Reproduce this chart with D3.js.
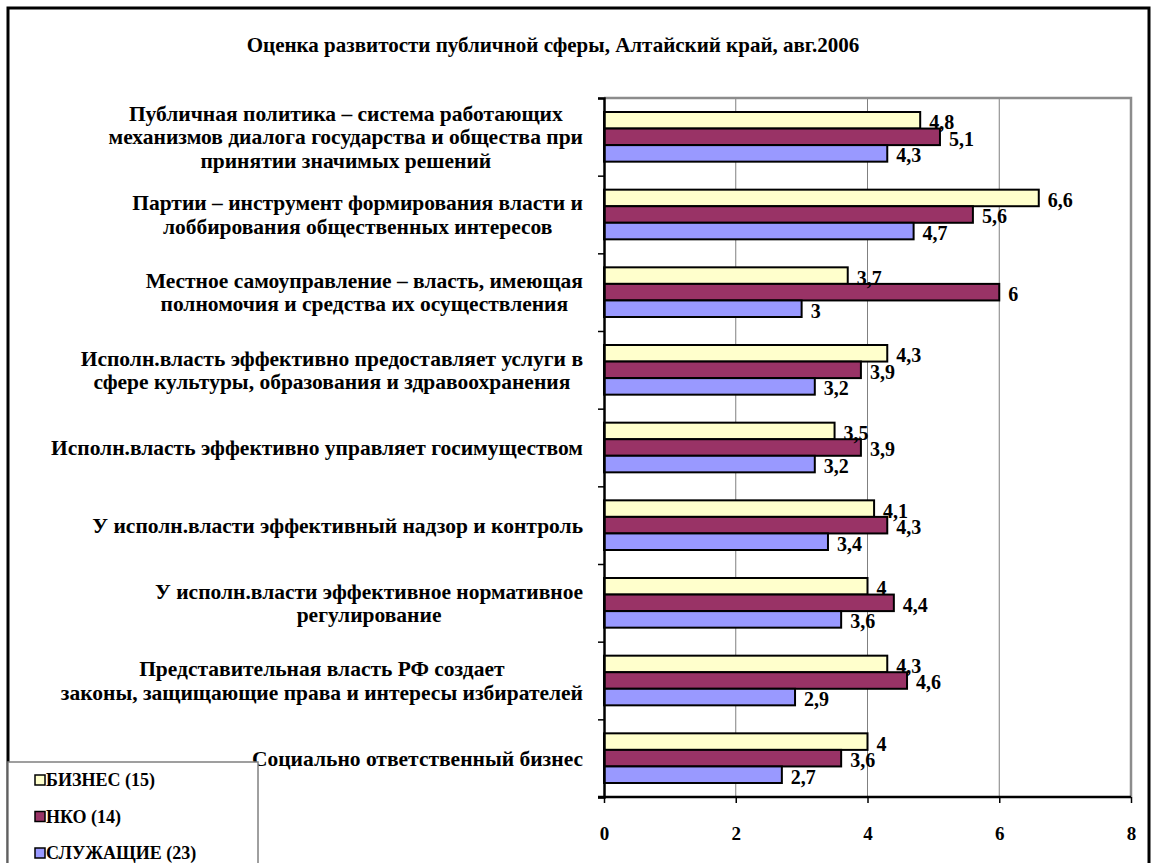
<!DOCTYPE html>
<html>
<head>
<meta charset="utf-8">
<script src="https://cdn.jsdelivr.net/npm/d3@7"></script>
<style>
  body { margin: 0; background: #fff; }
  svg text { font-family: "Liberation Serif", Tinos, "Times New Roman", "DejaVu Serif", serif; font-weight: bold; fill: #000; }
</style>
</head>
<body>
<div id="chart"></div>
<script>
// categories (each one split into the lines shown in the picture)
const categories = [
    ["Публичная политика – система работающих", "механизмов диалога государства и общества при", "принятии значимых решений"],
    ["Партии – инструмент формирования власти и", "лоббирования общественных интересов"],
    ["Местное самоуправление – власть, имеющая", "полномочия и средства их осуществления"],
    ["Исполн.власть эффективно предоставляет услуги в", "сфере культуры, образования и здравоохранения"],
    ["Исполн.власть эффективно управляет госимуществом"],
    ["У исполн.власти эффективный надзор и контроль"],
    ["У исполн.власти эффективное нормативное", "регулирование"],
    ["Представительная власть РФ создает", "законы, защищающие права и интересы избирателей"],
    ["Социально ответственный бизнес"]
];
const seriesNames = ["БИЗНЕС (15)", "НКО (14)", "СЛУЖАЩИЕ (23)"];
const business = [4.8, 6.6, 3.7, 4.3, 3.5, 4.1, 4.0, 4.3, 4.0];
const nko = [5.1, 5.6, 6.0, 3.9, 3.9, 4.3, 4.4, 4.6, 3.6];
const officials = [4.3, 4.7, 3.0, 3.2, 3.2, 3.4, 3.6, 2.9, 2.7];
const xTicks = [0, 2, 4, 6, 8];
const colors = ["#FFFFCC", "#993366", "#9999FF"];

const width = 1154, height = 863;
const plot = { left: 604, right: 1131, top: 98, bottom: 797 };

const svg = d3.select("#chart").append("svg")
    .attr("width", width)
    .attr("height", height);

// outer frame
svg.append("rect")
    .attr("x", 8).attr("y", 8)
    .attr("width", 1141).attr("height", 880)
    .attr("fill", "none").attr("stroke", "#000").attr("stroke-width", 3);

svg.append("text")
    .attr("x", 553).attr("y", 52)
    .attr("text-anchor", "middle")
    .style("font-size", "21px")
    .text("Оценка развитости публичной сферы, Алтайский край, авг.2006");

const x = d3.scaleLinear().domain([0, 8]).range([plot.left, plot.right]);
const keys = categories.map((c, i) => i);
const y0 = d3.scaleBand().domain(keys).range([plot.top, plot.bottom]);
const y1 = d3.scaleBand().domain([0, 1, 2])
    .range([14, y0.bandwidth() - 14]);

// gridlines
svg.append("g").selectAll("line")
    .data(xTicks.slice(1, -1))
    .enter().append("line")
    .attr("x1", d => x(d)).attr("x2", d => x(d))
    .attr("y1", plot.top).attr("y2", plot.bottom)
    .attr("stroke", "#808080").attr("stroke-width", 1);

// plot frame top/right
svg.append("path")
    .attr("d", `M${plot.left},${plot.top}H${plot.right}V${plot.bottom}`)
    .attr("fill", "none").attr("stroke", "#8c8c8c").attr("stroke-width", 2.5);

const rows = keys.map(i => [business[i], nko[i], officials[i]]);
const fmt = v => (Number.isInteger(v) ? String(v) : String(v).replace(".", ","));

const groups = svg.append("g").selectAll("g")
    .data(rows)
    .enter().append("g")
    .attr("transform", (d, i) => `translate(0,${y0(i)})`);

groups.selectAll("rect")
    .data(d => d)
    .enter().append("rect")
    .attr("x", x(0))
    .attr("y", (d, j) => y1(j))
    .attr("width", d => x(d) - x(0))
    .attr("height", y1.bandwidth())
    .attr("fill", (d, j) => colors[j])
    .attr("stroke", "#000")
    .attr("stroke-width", 2);

groups.selectAll("text")
    .data(d => d)
    .enter().append("text")
    .attr("x", d => x(d) + 9)
    .attr("y", (d, j) => y1(j) + y1.bandwidth() / 2 + 2)
    .attr("dy", "0.35em")
    .style("font-size", "20px")
    .text(fmt);

// axes
const yAxis = svg.append("g")
    .attr("transform", `translate(${plot.left},0)`)
    .call(d3.axisLeft(d3.scaleLinear().domain([0, keys.length]).range([plot.top, plot.bottom]))
        .ticks(keys.length).tickSize(6).tickFormat(""));
yAxis.select(".domain").attr("stroke", "#000").attr("stroke-width", 2.5);
yAxis.selectAll(".tick line").attr("stroke", "#000").attr("stroke-width", 1.5);

const xAxis = svg.append("g")
    .attr("transform", `translate(0,${plot.bottom})`)
    .call(d3.axisBottom(x).tickValues(xTicks).tickSize(6).tickPadding(24));
xAxis.select(".domain").attr("d", `M${plot.left - 6},0H${plot.right}`)
    .attr("stroke", "#000").attr("stroke-width", 2.5);
xAxis.selectAll(".tick line").attr("stroke", "#000").attr("stroke-width", 1.5);
xAxis.selectAll(".tick text")
    .style("font-size", "19px")
    .attr("fill", "#000");

// category labels: lines centred inside a block that is right-aligned
const labelRight = 583, lineH = 23.5;
categories.forEach((lines, i) => {
    const cy = y0(i) + y0.bandwidth() / 2;
    const g = svg.append("g");
    const texts = lines.map((line, k) => g.append("text")
        .attr("y", cy + (k - (lines.length - 1) / 2) * lineH)
        .attr("dy", "0.35em")
        .style("font-size", "21.5px")
        .text(line));
    const maxW = d3.max(texts, t => t.node().getComputedTextLength());
    texts.forEach(t => t.attr("x", labelRight - maxW / 2).attr("text-anchor", "middle"));
});

// legend
const legend = svg.append("g");
legend.append("rect")
    .attr("x", 8).attr("y", 762)
    .attr("width", 250).attr("height", 140)
    .attr("fill", "#fff").attr("stroke", "#808080").attr("stroke-width", 1.5);
seriesNames.forEach((name, j) => {
    const cy = 780 + j * 36.5;
    legend.append("rect")
        .attr("x", 35).attr("y", cy - 5)
        .attr("width", 10).attr("height", 10)
        .attr("fill", colors[j]).attr("stroke", "#000").attr("stroke-width", 1.5);
    legend.append("text")
        .attr("x", 46).attr("y", cy)
        .attr("dy", "0.35em")
        .style("font-size", "18px")
        .text(name);
});
</script>
</body>
</html>
